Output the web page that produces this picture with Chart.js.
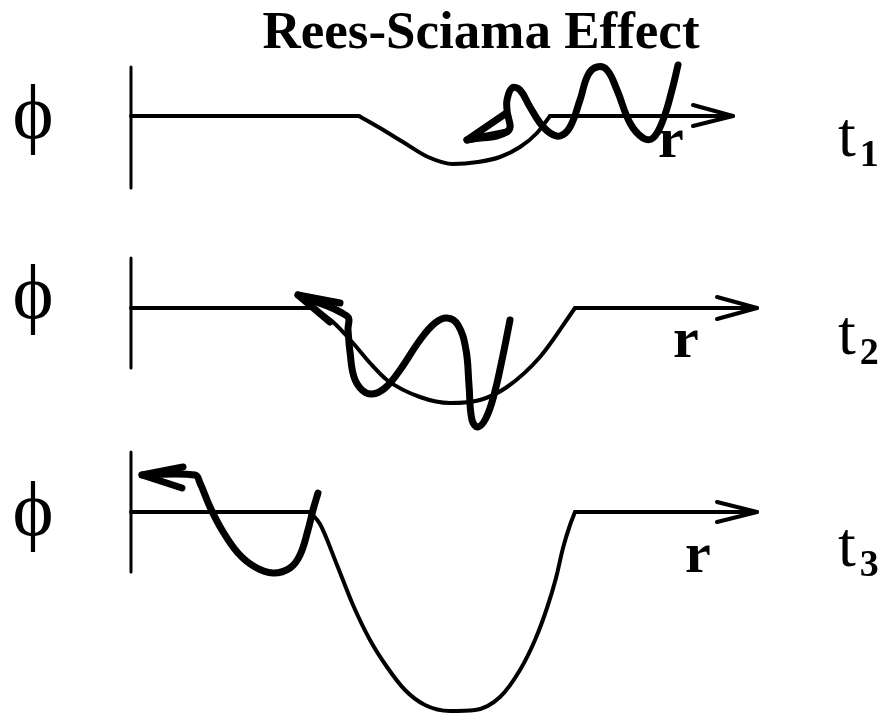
<!DOCTYPE html>
<html>
<head>
<meta charset="utf-8">
<script src="https://cdn.jsdelivr.net/npm/chart.js@4"></script>
<style>
  html, body { margin: 0; padding: 0; background: #fff; }
  #sketch { display: block; }
</style>
</head>
<body>
<canvas id="sketch" width="890" height="719"></canvas>
<script>
// Rees-Sciama sketch: potential phi(r) and a photon wave packet at three times.
// r is measured from the phi axis, phi upward from each panel's r axis.

const title = 'Rees-Sciama Effect';
const timeLabels = ['t', 't', 't'];
const timeSubs = ['1', '2', '3'];

// potential wells (thin line); the flat parts double as the r axis
const wellR1 = [228, 249, 272, 297, 322, 347, 369, 389, 406, 419];
const wellPhi1 = [0, -12, -26, -41, -48, -46, -41, -31, -17, 0];
const wellR2 = [182, 202, 222, 239, 256, 289, 319, 349, 376, 409, 444];
const wellPhi2 = [0, -14, -35, -55, -72, -89, -95, -92, -79, -49, 0];
const wellR3 = [179, 189, 206, 222, 239, 256, 274, 294, 319, 344, 369, 389, 404, 416, 425, 432, 439, 444];
const wellPhi3 = [0, -12, -53, -93, -128, -155, -178, -193, -199, -198, -185, -158, -128, -96, -66, -36, -13, 0];
const axisEndR = [602, 626, 626];

// photon wave packets (thick line)
const waveR1 = [336, 377, 376, 376, 381, 389, 399, 409, 419, 429, 439, 449, 457, 466, 476, 486, 499, 512, 522, 532, 541, 547];
const wavePhi1 = [-24, -15, 6, 16, 28, 26, 9, -7, -17, -20, -11, 16, 41, 49, 46, 26, -7, -22, -22, -4, 26, 51];
const waveR2 = [167, 216, 217, 219, 223, 231, 241, 254, 269, 289, 304, 316, 327, 335, 338, 341, 347, 355, 363, 371, 379];
const wavePhi2 = [13, -8, -22, -44, -69, -82, -86, -80, -62, -32, -15, -10, -17, -42, -77, -112, -119, -110, -87, -52, -12];
const waveR3 = [11, 64, 69, 79, 91, 107, 124, 142, 159, 169, 177, 182, 187];
const wavePhi3 = [37, 37, 29, 5, -18, -41, -55, -61, -56, -43, -18, 2, 19];

// arrowheads: [back barb, tip, back barb]
const waveHeadR = [[374, 336, 376], [209, 167, 199], [52, 11, 51]];
const waveHeadPhi = [[2, -24, -16], [5, 13, -14], [45, 37, 24]];
const axisHeadR = [[562, 602, 562], [586, 626, 586], [586, 626, 586]];
const axisHeadPhi = [[11, 0, -10], [11, 0, -11], [10, 0, -10]];
const phiAxisSpan = [[49, -72], [50, -60], [60, -60]];

// layout: pixel row of each panel's r axis, label rows
const panelBase = [116, 308, 512];
const phiLabelRow = [138, 318, 535];
const rLabelR = [527, 542, 554];
const rLabelRow = [157, 357, 572];
const tLabelRow = [156, 354, 566];

function pts(rs, phis, base) {
  return rs.map((r, i) => ({ x: r, y: base - phis[i] }));
}

function curve(rs, phis, base, width, tension, mode) {
  return {
    data: pts(rs, phis, base),
    borderColor: '#000',
    borderWidth: width,
    tension: tension,
    cubicInterpolationMode: mode || 'default',
    borderCapStyle: 'round',
    borderJoinStyle: 'round',
    pointRadius: 0,
    showLine: true,
    fill: false
  };
}

const wells = [[wellR1, wellPhi1], [wellR2, wellPhi2], [wellR3, wellPhi3]];
const waves = [[waveR1, wavePhi1], [waveR2, wavePhi2], [waveR3, wavePhi3]];

const datasets = [];
for (let p = 0; p < 3; p++) {
  const base = panelBase[p];
  const wr = wells[p][0];
  datasets.push(curve([0, 0], phiAxisSpan[p], base, 3, 0));
  datasets.push(curve([0, wr[0]], [0, 0], base, 4, 0));
  datasets.push(curve(wr, wells[p][1], base, 4, 0.4, 'monotone'));
  datasets.push(curve([wr[wr.length - 1], axisEndR[p]], [0, 0], base, 4, 0));
  datasets.push(curve(axisHeadR[p], axisHeadPhi[p], base, 4, 0));
  datasets.push(curve(waves[p][0], waves[p][1], base, 7, 0.4));
  datasets.push(curve(waveHeadR[p], waveHeadPhi[p], base, 7, 0));
}

// text labels
const labelPlugin = {
  id: 'labels',
  afterDraw(chart) {
    const ctx = chart.ctx;
    const xs = chart.scales.x;
    ctx.save();
    ctx.fillStyle = '#000';
    ctx.textBaseline = 'alphabetic';

    ctx.font = 'bold 53px "Liberation Serif"';
    ctx.textAlign = 'center';
    ctx.fillText(title, 481, 48);

    for (let p = 0; p < 3; p++) {
      ctx.textAlign = 'center';
      ctx.font = '78px "Liberation Serif"';
      ctx.fillText('\u03d5', 33, phiLabelRow[p]);

      ctx.textAlign = 'left';
      ctx.font = 'bold 58px "Liberation Serif"';
      ctx.fillText('r', xs.getPixelForValue(rLabelR[p]), rLabelRow[p]);

      ctx.font = '64px "Liberation Serif"';
      ctx.fillText(timeLabels[p], 838, tLabelRow[p]);
      const tw = ctx.measureText(timeLabels[p]).width;
      ctx.font = 'bold 38px "Liberation Serif"';
      ctx.fillText(timeSubs[p], 838 + tw + 4, tLabelRow[p] + 10);
    }
    ctx.restore();
  }
};

new Chart(document.getElementById('sketch'), {
  type: 'scatter',
  data: { datasets: datasets },
  options: {
    responsive: false,
    animation: false,
    layout: { padding: 0 },
    plugins: { legend: { display: false }, tooltip: { enabled: false } },
    scales: {
      x: { type: 'linear', min: -131, max: 759, display: false },
      y: { type: 'linear', min: 0, max: 719, reverse: true, display: false }
    }
  },
  plugins: [labelPlugin]
});
</script>
</body>
</html>
